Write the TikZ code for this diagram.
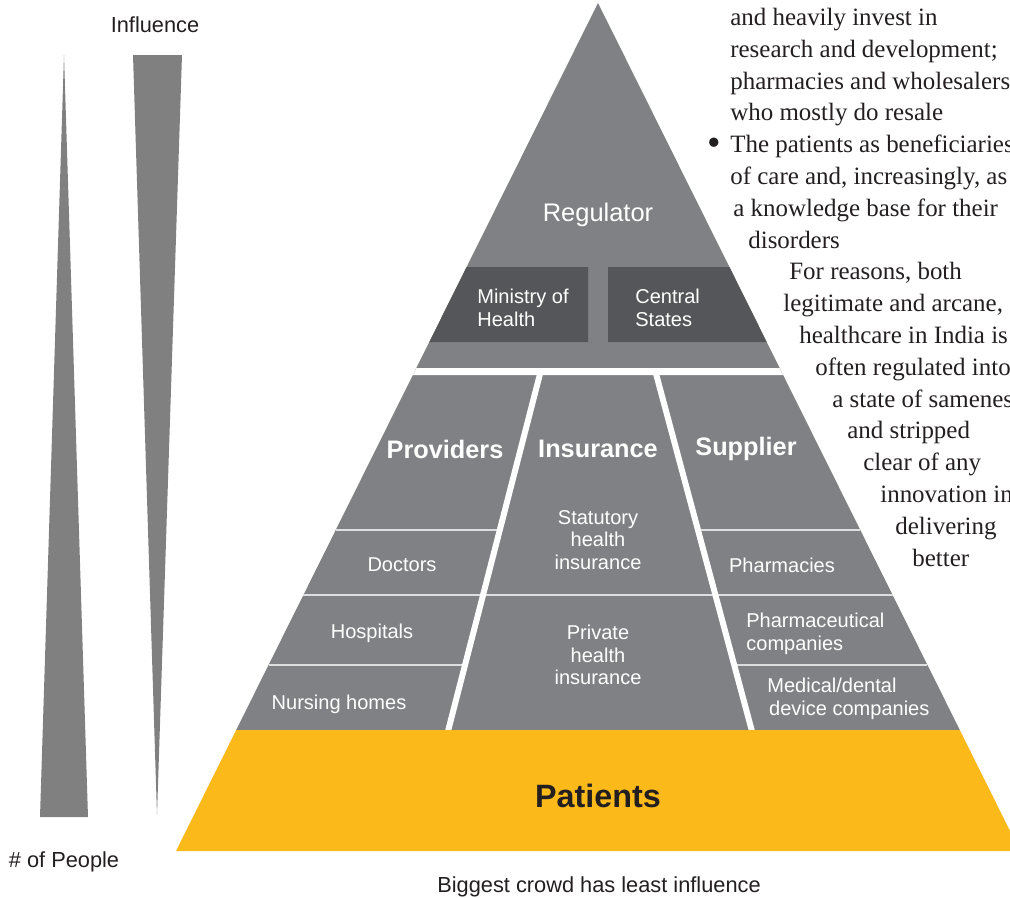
\documentclass[tikz,border=0pt]{standalone}
\usepackage{fontspec}
\setmainfont{Liberation Sans}
\newfontfamily\bodyserif{Liberation Serif}
\usetikzlibrary{positioning, calc}

\definecolor{pyrgray}{RGB}{128,129,133}
\definecolor{regdark}{RGB}{85,86,89}
\definecolor{patyellow}{RGB}{251,186,26}
\definecolor{bargray}{RGB}{128,128,128}
\definecolor{inkdark}{RGB}{35,31,32}
\definecolor{rulegray}{RGB}{222,222,224}

\tikzset{
  tiertitle/.style={text=white, font=\fontsize{14.5}{17}\selectfont},
  boldtitle/.style={text=white, font=\fontsize{14.4}{17}\selectfont\bfseries},
  celltext/.style={text=white, font=\fontsize{11.4}{12.9}\selectfont, inner sep=0pt},
  whitegap/.style={white, line width=3.4pt},
  rowrule/.style={rulegray, line width=1pt},
  sidenote/.style={text=inkdark, font=\fontsize{12.4}{14}\selectfont},
  bodyline/.style={anchor=base west, inner sep=0pt, text=inkdark, font=\bodyserif\fontsize{14.2}{17}\selectfont}
}

\begin{document}
\begin{tikzpicture}[x=0.02cm, y=-0.02cm]
  \useasboundingbox (0,0) rectangle (1010,897);
  \clip (0,0) rectangle (1010,897);

  % bars on the left
  \fill[bargray] (64,55) -- (88,817) -- (40,817) -- cycle;
  \fill[bargray] (133,55) -- (182,55) -- (157,815) -- cycle;
  \node[sidenote] (influence) at (155,25) {Influence};
  \node[sidenote] (people) at (64,862) {\# of People};

  % pyramid body
  \fill[pyrgray] (598,3) -- (959.8,730) -- (236.2,730) -- cycle;
  \fill[regdark] (466.6,267) -- (588,267) -- (588,342) -- (429.3,342) -- cycle;
  \fill[regdark] (608,267) -- (729.4,267) -- (766.7,342) -- (608,342) -- cycle;

  % rows
  \draw[rowrule] (335.7,530) -- (500.4,530);
  \draw[rowrule] (697.4,530) -- (860.3,530);
  \draw[rowrule] (303.4,595) -- (892.6,595);
  \draw[rowrule] (268.6,665) -- (465,665);
  \draw[rowrule] (734.2,665) -- (927.4,665);

  % white separators
  \draw[whitegap] (541,370) -- (447,735);
  \draw[whitegap] (655,370) -- (753,735);
  \fill[white] (416.4,368) -- (779.6,368) -- (783.1,375) -- (412.9,375) -- cycle;

  % patients band
  \fill[patyellow] (236.2,730) -- (959.8,730) -- (1020,851) -- (176,851) -- cycle;

  \node[tiertitle] (regulator) at (598,215) {Regulator};
  \node[celltext, anchor=west, align=left] (ministry) at (477,308) {Ministry of\\Health};
  \node[celltext, anchor=west, align=left] (central) at (635,308) {Central\\States};

  \node[boldtitle] (providers) at (445,449) {Providers};
  \node[boldtitle] (insurance) at (598,449) {Insurance};
  \node[boldtitle] (supplier) at (746,449) {Supplier};

  \node[celltext] (doctors) at (402,565) {Doctors};
  \node[celltext] (hospitals) at (372,633) {Hospitals};
  \node[celltext] (nursing) at (339,704) {Nursing homes};
  \node[celltext, align=center] (statutory) at (598,540) {Statutory\\health\\insurance};
  \node[celltext, align=center] (private) at (598,655) {Private\\health\\insurance};
  \node[celltext] (pharmacies) at (782,565) {Pharmacies};
  \node[celltext, anchor=west, align=left] (pharmaco) at (746,634) {Pharmaceutical\\companies};
  \node[celltext, anchor=west, align=left] (meddev) at (767,699) {Medical/dental\\\hspace{1pt}device companies};

  \node[text=inkdark, font=\fontsize{18.4}{22}\selectfont\bfseries] (patients) at (598,796) {Patients};
  \node[sidenote] (caption) at (599,887) {Biggest crowd has least influence};

  % running text beside the pyramid
  \node[inner sep=0pt, text=inkdark, font=\bodyserif\fontsize{22}{22}\selectfont] (bullet) at (714,147) {\textbullet};
  \foreach \tx/\ty/\tline [count=\i] in {
      730/25/{and heavily invest in},
      730/57/{research and development;},
      730/89/{pharmacies and wholesalers},
      730/120/{who mostly do resale},
      730/152/{The patients as beneficiaries},
      730/184/{of care and, increasingly, as},
      733/216/{a knowledge base for their},
      748/248/{disorders},
      789/279/{For reasons, both},
      783/311/{legitimate and arcane,},
      799/343/{healthcare in India is},
      815/375/{often regulated into},
      832/407/{a state of sameness},
      847/438/{and stripped},
      863/470/{clear of any},
      880/502/{innovation in},
      895/534/{delivering},
      912/566/{better}}
    \node[bodyline] (body\i) at (\tx,\ty) {\tline};
\end{tikzpicture}
\end{document}
